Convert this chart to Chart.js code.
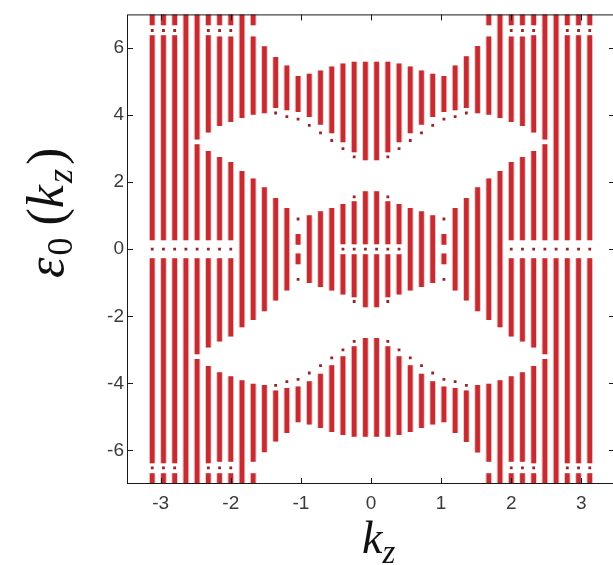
<!DOCTYPE html>
<html>
<head>
<meta charset="utf-8">
<script src="https://cdn.jsdelivr.net/npm/chart.js@4.4.1/dist/chart.umd.min.js"></script>
<style>
  html, body { margin: 0; padding: 0; background: #fff; overflow: hidden; }
</style>
</head>
<body>
<canvas id="bands" width="640" height="565"></canvas>
<script>
// kz sample points (one vertical stripe each)
const kz = [-3.12, -2.96, -2.80, -2.64, -2.48, -2.32, -2.16, -2.00, -1.84, -1.68,
            -1.52, -1.36, -1.20, -1.04, -0.88, -0.72, -0.56, -0.40, -0.24, -0.08,
             0.08,  0.24,  0.40,  0.56,  0.72,  0.88,  1.04,  1.20,  1.36,  1.52,
             1.68,  1.84,  2.00,  2.16,  2.32,  2.48,  2.64,  2.80,  2.96,  3.12];

// filled energy ranges [low, high] for each kz stripe
const segments = [
  [[-7, -6.69], [-6.37, -0.28], [0.28, 6.37], [6.69, 7]],
  [[-7, -6.69], [-6.37, -0.28], [0.28, 6.37], [6.69, 7]],
  [[-7, -6.69], [-6.37, -0.28], [0.28, 6.37], [6.69, 7]],
  [[-7, -0.28], [0.28, 7]],
  [[-7, -3.28], [-3.12, -0.28], [0.28, 3.12], [3.28, 7]],
  [[-7, -6.69], [-6.37, -3.49], [-2.92, -0.28], [0.28, 2.92], [3.49, 6.37], [6.69, 7]],
  [[-7, -6.69], [-6.33, -3.68], [-2.74, -0.28], [0.28, 2.74], [3.68, 6.33], [6.69, 7]],
  [[-7, -6.69], [-6.33, -3.80], [-2.59, -0.28], [0.28, 2.59], [3.80, 6.33], [6.69, 7]],
  [[-7, -3.92], [-2.32, 2.32], [3.92, 7]],
  [[-7, -6.69], [-6.33, -4.02], [-2.10, 2.10], [4.02, 6.33], [6.69, 7]],
  [[-6.04, -4.06], [-1.84, 1.84], [4.06, 6.04]],
  [[-5.72, -4.22], [-1.52, 1.52], [4.22, 5.72]],
  [[-5.47, -4.15], [-1.22, 1.22], [4.15, 5.47]],
  [[-5.15, -4.10], [-0.44, -0.14], [0.14, 0.44], [4.10, 5.15]],
  [[-5.22, -3.95], [-1.00, 1.00], [3.95, 5.22]],
  [[-5.32, -3.72], [-1.12, 1.12], [3.72, 5.32]],
  [[-5.44, -3.47], [-1.22, 1.22], [3.47, 5.44]],
  [[-5.53, -3.20], [-1.34, -0.16], [0.16, 1.34], [3.20, 5.53]],
  [[-5.58, -2.90], [-1.42, -0.16], [0.16, 1.42], [2.90, 5.58]],
  [[-5.58, -2.66], [-1.72, -0.16], [0.16, 1.72], [2.66, 5.58]],
  [[-5.58, -2.66], [-1.72, -0.16], [0.16, 1.72], [2.66, 5.58]],
  [[-5.58, -2.90], [-1.42, -0.16], [0.16, 1.42], [2.90, 5.58]],
  [[-5.53, -3.20], [-1.34, -0.16], [0.16, 1.34], [3.20, 5.53]],
  [[-5.44, -3.47], [-1.22, 1.22], [3.47, 5.44]],
  [[-5.32, -3.72], [-1.12, 1.12], [3.72, 5.32]],
  [[-5.22, -3.95], [-1.00, 1.00], [3.95, 5.22]],
  [[-5.15, -4.10], [-0.44, -0.14], [0.14, 0.44], [4.10, 5.15]],
  [[-5.47, -4.15], [-1.22, 1.22], [4.15, 5.47]],
  [[-5.74, -4.22], [-1.52, 1.52], [4.22, 5.74]],
  [[-6.05, -4.06], [-1.84, 1.84], [4.06, 6.05]],
  [[-7, -6.69], [-6.33, -4.02], [-2.10, 2.10], [4.02, 6.33], [6.69, 7]],
  [[-7, -3.92], [-2.32, 2.32], [3.92, 7]],
  [[-7, -6.69], [-6.33, -3.80], [-2.59, -0.28], [0.28, 2.59], [3.80, 6.33], [6.69, 7]],
  [[-7, -6.69], [-6.33, -3.68], [-2.74, -0.28], [0.28, 2.74], [3.68, 6.33], [6.69, 7]],
  [[-7, -6.69], [-6.37, -3.49], [-2.92, -0.28], [0.28, 2.92], [3.49, 6.37], [6.69, 7]],
  [[-7, -3.28], [-3.12, -0.28], [0.28, 3.12], [3.28, 7]],
  [[-7, -0.28], [0.28, 7]],
  [[-7, -6.69], [-6.37, -0.28], [0.28, 6.37], [6.69, 7]],
  [[-7, -6.69], [-6.37, -0.28], [0.28, 6.37], [6.69, 7]],
  [[-7, -6.69], [-6.37, -0.28], [0.28, 6.37], [6.69, 7]]
];

// isolated eigenvalues sitting in the gaps [kz, eps]
const edgeDots = [
  [-3.12, 6.52], [-3.12, 0], [-3.12, -6.52],
  [-2.96, 6.52], [-2.96, 0], [-2.96, -6.52],
  [-2.80, 6.52], [-2.80, 0], [-2.80, -6.52],
  [-2.64, 0], [-2.48, 0],
  [-2.32, 6.52], [-2.32, 0], [-2.32, -6.52],
  [-2.16, 6.52], [-2.16, 0], [-2.16, -6.52],
  [-2.00, 6.52], [-2.00, 0], [-2.00, -6.52],
  [-1.36, 4.06], [-1.36, -4.06],
  [-1.20, 3.95], [-1.20, -3.95],
  [-1.04, 3.88], [-1.04, 0.90], [-1.04, -0.90], [-1.04, -3.88],
  [-0.88, 3.69], [-0.88, -3.69],
  [-0.72, 3.47], [-0.72, -3.47],
  [-0.56, 3.24], [-0.56, -3.24],
  [-0.40, 3.00], [-0.40, 0], [-0.40, -3.00],
  [-0.24, 2.75], [-0.24, 1.56], [-0.24, 0], [-0.24, -1.56], [-0.24, -2.75],
  [-0.08, 0], [0.08, 0],
  [0.24, 2.75], [0.24, 1.56], [0.24, 0], [0.24, -1.56], [0.24, -2.75],
  [0.40, 3.00], [0.40, 0], [0.40, -3.00],
  [0.56, 3.24], [0.56, -3.24],
  [0.72, 3.47], [0.72, -3.47],
  [0.88, 3.69], [0.88, -3.69],
  [1.04, 3.88], [1.04, 0.90], [1.04, -0.90], [1.04, -3.88],
  [1.20, 3.95], [1.20, -3.95],
  [1.36, 4.06], [1.36, -4.06],
  [2.00, 6.52], [2.00, 0], [2.00, -6.52],
  [2.16, 6.52], [2.16, 0], [2.16, -6.52],
  [2.32, 6.52], [2.32, 0], [2.32, -6.52],
  [2.48, 0], [2.64, 0],
  [2.80, 6.52], [2.80, 0], [2.80, -6.52],
  [2.96, 6.52], [2.96, 0], [2.96, -6.52],
  [3.12, 6.52], [3.12, 0], [3.12, -6.52]
];

const xTicks = [-3, -2, -1, 0, 1, 2, 3];
const yTicks = [-6, -4, -2, 0, 2, 4, 6];

const stripeColor = 'rgb(196, 44, 50)';
const haloColor = 'rgba(232, 150, 152, 0.55)';
const dotColor = 'rgb(150, 36, 40)';

const barData = kz.flatMap((x, i) => segments[i].map(s => ({ x: x, y: s })));
const dotData = edgeDots.map(d => ({ x: d[0], y: d[1] }));

// draws a string made of pieces (italic symbols, subscripts)
function drawMath(ctx, parts, x0, y0) {
    let x = x0;
    parts.forEach(p => {
        ctx.font = p.font;
        x += p.gap || 0;
        ctx.fillText(p.text, x, y0 + (p.dy || 0));
        x += ctx.measureText(p.text).width;
    });
}

const framePlugin = {
    id: 'frame',
    afterDraw(chart) {
        const { ctx, chartArea: a, scales: { x, y } } = chart;
        ctx.save();
        ctx.strokeStyle = '#1a1a1a';
        ctx.lineWidth = 1;
        ctx.strokeRect(a.left + 0.5, a.top + 0.5, a.right - a.left - 1, a.bottom - a.top - 1);

        // inward tick marks on all four sides
        ctx.beginPath();
        xTicks.forEach(v => {
            const px = Math.round(x.getPixelForValue(v)) + 0.5;
            ctx.moveTo(px, a.bottom); ctx.lineTo(px, a.bottom - 6);
            ctx.moveTo(px, a.top); ctx.lineTo(px, a.top + 6);
        });
        yTicks.forEach(v => {
            const py = Math.round(y.getPixelForValue(v)) + 0.5;
            ctx.moveTo(a.left, py); ctx.lineTo(a.left + 6, py);
            ctx.moveTo(a.right, py); ctx.lineTo(a.right - 6, py);
        });
        ctx.stroke();

        // axis titles
        ctx.fillStyle = '#111';
        ctx.textBaseline = 'alphabetic';
        const serif = '"Liberation Serif", "DejaVu Serif", serif';
        drawMath(ctx, [
            { text: 'k', font: 'italic 46px ' + serif },
            { text: 'z', font: 'italic 33px ' + serif, dy: 10 }
        ], 362, 553);

        ctx.translate(63, 278);
        ctx.rotate(-Math.PI / 2);
        drawMath(ctx, [
            { text: 'ε', font: 'italic 52px ' + serif },
            { text: '0', font: '36px ' + serif, dy: 9, gap: 2 },
            { text: '(', font: '52px ' + serif, gap: 12 },
            { text: 'k', font: 'italic 52px ' + serif },
            { text: 'z', font: 'italic 36px ' + serif, dy: 9, gap: 2 },
            { text: ')', font: '52px ' + serif, gap: 4 }
        ], 0, 0);
        ctx.restore();
    }
};

const tickFont = { family: '"Liberation Sans", Arial, sans-serif', size: 19 };

new Chart(document.getElementById('bands'), {
    type: 'bar',
    data: {
        datasets: [
            {
                type: 'scatter',
                data: dotData,
                pointStyle: 'rect',
                pointRadius: 2,
                backgroundColor: dotColor,
                borderWidth: 0
            },
            {
                type: 'bar',
                data: barData,
                grouped: false,
                barThickness: 4,
                backgroundColor: stripeColor,
                borderWidth: 0
            },
            {
                type: 'bar',
                data: barData,
                grouped: false,
                barThickness: 6,
                backgroundColor: haloColor,
                borderWidth: 0
            }
        ]
    },
    options: {
        responsive: false,
        animation: false,
        events: [],
        layout: { padding: { top: 9, right: 25, left: 0, bottom: 0 } },
        plugins: { legend: { display: false }, tooltip: { enabled: false } },
        scales: {
            x: {
                type: 'linear',
                min: -3.48,
                max: 3.48,
                offset: false,
                grid: { display: false, drawTicks: false, offset: false },
                border: { display: false },
                afterBuildTicks: s => { s.ticks = xTicks.map(v => ({ value: v })); },
                afterFit: s => { s.height = 81; },
                ticks: {
                    color: '#3a3a3a',
                    font: tickFont,
                    padding: 8,
                    maxRotation: 0,
                    autoSkip: false,
                    callback: v => String(v)
                }
            },
            y: {
                type: 'linear',
                min: -7,
                max: 7,
                grid: { display: false, drawTicks: false },
                border: { display: false },
                afterBuildTicks: s => { s.ticks = yTicks.map(v => ({ value: v })); },
                afterFit: s => { s.width = 127; },
                ticks: {
                    color: '#3a3a3a',
                    font: tickFont,
                    padding: 3,
                    autoSkip: false,
                    callback: v => String(v)
                }
            }
        }
    },
    plugins: [framePlugin]
});
</script>
</body>
</html>
